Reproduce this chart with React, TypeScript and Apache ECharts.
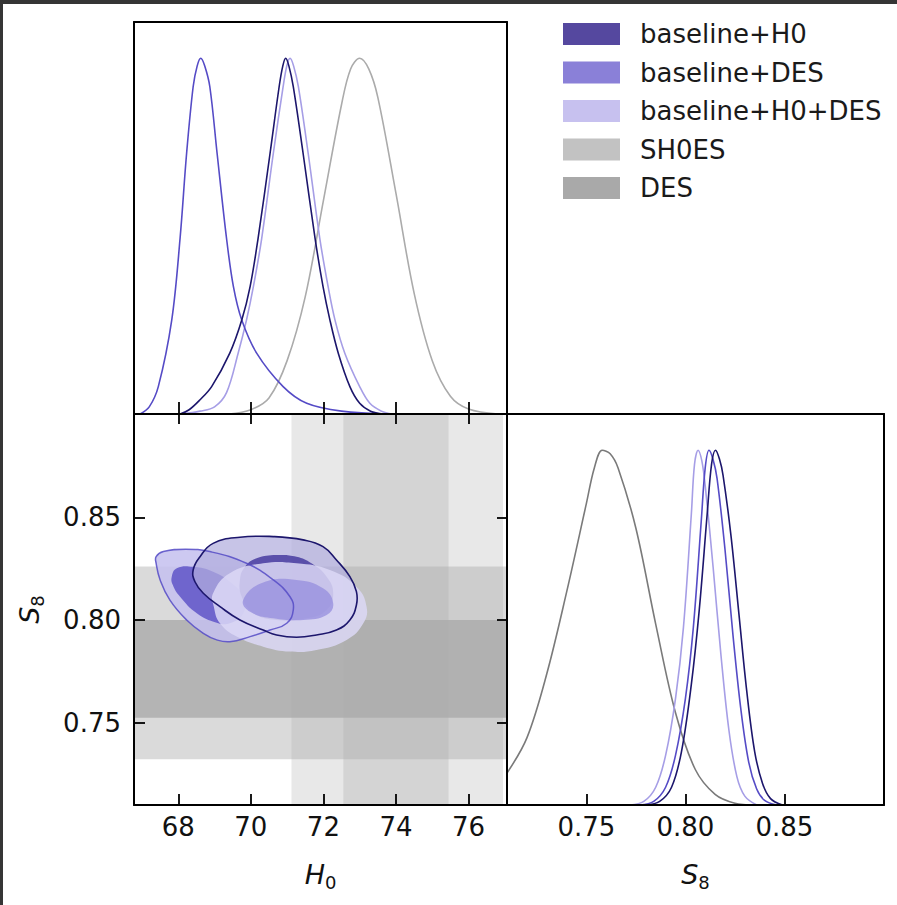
import React, { useEffect, useRef } from "react";
import * as echarts from "echarts";

const FONT = "DejaVu Sans";

// ---- axis ranges and ticks ----
const H0_MIN = 66.78;
const H0_MAX = 77.06;
const S8_MIN = 0.7099;
const S8_MAX = 0.9003;
const PDF_MAX = 1.102;
const H0_TICKS = [68, 70, 72, 74, 76];
const S8_TICKS = [0.75, 0.8, 0.85];

// ---- legend ----
const LEGEND_NAMES = ["baseline+H0", "baseline+DES", "baseline+H0+DES", "SH0ES", "DES"];
const LEGEND_COLORS = ["#55489f", "#8a80d8", "#c7c1ef", "#c2c2c2", "#a9a9a9"];

// ---- line colours ----
const LINE_H0 = "#1c166c";
const LINE_DES = "#554bc6";
const LINE_H0DES = "#a69ee6";
const LINE_SH0ES = "#ababab";
const LINE_DESONLY = "#7a7a7a";

// ---- 1D marginals of H0 (value, normalised density) ----
const h0BaselineH0 = [
  [68.05, 0], [68.3, 0.012], [68.6, 0.04], [68.92, 0.077], [69.42, 0.171], [69.75, 0.264],
  [69.98, 0.358], [70.2, 0.494], [70.53, 0.733], [70.78, 0.92], [70.88, 0.978], [70.96, 1.0],
  [71.05, 0.978], [71.17, 0.92], [71.44, 0.733], [71.77, 0.494], [71.99, 0.358], [72.18, 0.264],
  [72.41, 0.171], [72.73, 0.077], [73.0, 0.03], [73.3, 0.008], [73.65, 0],
];
const h0BaselineDES = [
  [66.95, 0], [67.2, 0.02], [67.45, 0.077], [67.82, 0.264], [68.05, 0.494], [68.23, 0.733],
  [68.41, 0.92], [68.52, 0.978], [68.62, 1.0], [68.73, 0.978], [68.87, 0.92], [69.07, 0.733],
  [69.33, 0.494], [69.52, 0.358], [69.75, 0.264], [70.16, 0.171], [70.89, 0.077], [71.54, 0.03],
  [72.5, 0.008], [73.8, 0],
];
const h0BaselineH0DES = [
  [68.1, 0], [68.6, 0.008], [69.0, 0.02], [69.33, 0.06], [69.65, 0.171], [69.88, 0.264],
  [70.07, 0.358], [70.3, 0.494], [70.62, 0.733], [70.89, 0.92], [70.99, 0.978], [71.08, 1.0],
  [71.18, 0.978], [71.31, 0.92], [71.58, 0.733], [71.9, 0.494], [72.13, 0.358], [72.32, 0.264],
  [72.59, 0.171], [73.0, 0.077], [73.28, 0.03], [73.6, 0.008], [73.9, 0],
];
const h0SH0ES = [
  [69.4, 0], [70.0, 0.012], [70.5, 0.045], [71.0, 0.15], [71.5, 0.33], [72.0, 0.6], [72.5, 0.87],
  [72.75, 0.97], [73.0, 1.0], [73.25, 0.97], [73.5, 0.89], [74.0, 0.62], [74.5, 0.34], [75.0, 0.15],
  [75.5, 0.05], [76.0, 0.014], [76.8, 0],
];

// ---- 1D marginals of S8 ----
const s8BaselineH0 = [
  [0.78, 0], [0.787, 0.01], [0.793, 0.05], [0.798, 0.15], [0.803, 0.34], [0.807, 0.55],
  [0.811, 0.82], [0.8132, 0.96], [0.8152, 1.0], [0.8172, 0.975], [0.819, 0.93], [0.823, 0.76],
  [0.827, 0.54], [0.831, 0.32], [0.835, 0.15], [0.839, 0.06], [0.843, 0.018], [0.849, 0],
];
const s8BaselineDES = [
  [0.777, 0], [0.784, 0.01], [0.79, 0.05], [0.795, 0.14], [0.8, 0.3], [0.804, 0.5], [0.808, 0.8],
  [0.81, 0.95], [0.8119, 1.0], [0.8139, 0.975], [0.816, 0.92], [0.82, 0.72], [0.824, 0.48],
  [0.828, 0.27], [0.832, 0.12], [0.836, 0.045], [0.84, 0.013], [0.846, 0],
];
const s8BaselineH0DES = [
  [0.772, 0], [0.779, 0.01], [0.785, 0.05], [0.79, 0.14], [0.795, 0.3], [0.799, 0.5],
  [0.803, 0.82], [0.8046, 0.96], [0.8064, 1.0], [0.8083, 0.97], [0.81, 0.9], [0.814, 0.67],
  [0.818, 0.42], [0.822, 0.21], [0.826, 0.08], [0.83, 0.025], [0.836, 0],
];
const s8DES = [
  [0.7099, 0.09], [0.72, 0.19], [0.73, 0.37], [0.74, 0.6], [0.75, 0.85], [0.754, 0.95], [0.758, 1.0],
  [0.762, 0.99], [0.766, 0.95], [0.775, 0.78], [0.785, 0.51], [0.795, 0.26], [0.805, 0.1],
  [0.815, 0.03], [0.825, 0.005], [0.835, 0],
];

// ---- external constraint bands ----
const sh0esBand95 = [71.12, 76.95];
const sh0esBand68 = [72.55, 75.45];
const desBand95 = [0.7322, 0.826];
const desBand68 = [0.7524, 0.8];

// ---- 2D contours (H0, S8) ----
const cDESOuter = [
  [67.39, 0.8308], [67.59, 0.8333], [68.2, 0.8345], [68.87, 0.8333], [69.88, 0.8276], [70.62, 0.8195],
  [71.08, 0.8113], [71.17, 0.8049], [70.99, 0.7984], [70.53, 0.7951], [69.98, 0.7919], [69.42, 0.7894],
  [69.06, 0.7903], [68.69, 0.7935], [68.23, 0.8], [67.77, 0.8097], [67.5, 0.8195], [67.39, 0.8276],
];
const cDESInner = [
  [67.82, 0.8211], [67.96, 0.8252], [68.41, 0.8259], [68.96, 0.8235], [69.42, 0.8186], [69.79, 0.8113],
  [69.79, 0.8033], [69.42, 0.7984], [69.06, 0.7987], [68.51, 0.8033], [68.05, 0.8113], [67.85, 0.817],
];
const cH0Outer = [
  [68.41, 0.8243], [68.6, 0.8308], [68.96, 0.8373], [69.7, 0.8403], [70.62, 0.8406], [71.44, 0.839],
  [71.99, 0.8357], [72.36, 0.8292], [72.73, 0.8211], [72.91, 0.8138], [72.91, 0.8073], [72.73, 0.8],
  [72.36, 0.7951], [71.81, 0.7927], [71.26, 0.7916], [70.71, 0.7927], [70.34, 0.7951], [69.7, 0.8],
  [69.15, 0.8065], [68.69, 0.813], [68.46, 0.8186],
];
const cH0Inner = [
  [69.84, 0.8259], [70.16, 0.83], [70.71, 0.8316], [71.26, 0.8308], [71.67, 0.8276], [72.09, 0.8211],
  [72.27, 0.813], [72.09, 0.8049], [71.54, 0.8008], [70.71, 0.8], [70.07, 0.8033], [69.75, 0.8113],
  [69.7, 0.8195],
];
const cH0DESOuter = [
  [68.96, 0.813], [69.42, 0.8227], [70.34, 0.8276], [71.26, 0.8276], [72.18, 0.8243], [72.91, 0.8162],
  [73.19, 0.8065], [73.1, 0.7984], [72.64, 0.7903], [71.81, 0.7854], [71.08, 0.7846], [70.34, 0.787],
  [69.61, 0.7919], [69.15, 0.7984], [68.98, 0.8065],
];
const cH0DESInner = [
  [69.79, 0.8097], [70.34, 0.8182], [71.26, 0.8195], [71.99, 0.8154], [72.27, 0.8081], [72.09, 0.8024],
  [71.44, 0.8], [70.62, 0.8008], [69.98, 0.804],
];

const labelStyle = { fontFamily: FONT, fontSize: 26, color: "#111" };
const frameLine = { show: true, onZero: false, lineStyle: { color: "#000", width: 2 } };
const tickStyle = { color: "#000", width: 1.8 };

function makeAxis(gridIndex: number, position: string, min: number, max: number, o: any = {}) {
  return {
    type: "value",
    gridIndex,
    position,
    min,
    max,
    z: 10,
    axisLine: frameLine,
    splitLine: { show: false },
    axisTick: o.ticks
      ? { show: true, inside: true, length: o.tickLen || 11, customValues: o.ticks, lineStyle: tickStyle }
      : { show: false },
    axisLabel: o.labels
      ? { show: true, customValues: o.ticks, margin: o.margin, formatter: o.fmt, ...labelStyle }
      : { show: false },
    ...(o.name
      ? {
          name: o.name,
          nameLocation: "middle",
          nameGap: o.nameGap,
          nameTextStyle: {
            rich: {
              i: { fontFamily: FONT, fontStyle: "italic", fontSize: 27, lineHeight: 34, color: "#111" },
              s: { fontFamily: FONT, fontSize: 18, lineHeight: 18, verticalAlign: "bottom", color: "#111" },
            },
          },
        }
      : {}),
  };
}

function line(name: string, data: number[][], color: string, xi: number, yi: number, z: number) {
  return {
    type: "line",
    name,
    data,
    xAxisIndex: xi,
    yAxisIndex: yi,
    smooth: 0.35,
    showSymbol: false,
    symbol: "none",
    clip: true,
    z,
    lineStyle: { color, width: 1.6 },
    silent: true,
  };
}

function contour(name: string, pts: number[][], style: any, z: number) {
  return {
    type: "custom",
    name,
    xAxisIndex: 2,
    yAxisIndex: 2,
    data: pts,
    encode: { x: 0, y: 1 },
    clip: true,
    z,
    silent: true,
    renderItem: (params: any, api: any) => {
      if (params.dataIndex !== 0) return null;
      const points = pts.map((p) => api.coord(p));
      return { type: "polygon", shape: { points, smooth: 0.45 }, style };
    },
  };
}

export default function App() {
  const ref = useRef<HTMLDivElement>(null);
  useEffect(() => {
    if (!ref.current) return;
    const chart = echarts.init(ref.current, null, { renderer: "svg" });
    const fmtH0 = (v: number) => String(Math.round(v));
    const fmtS8 = (v: number) => v.toFixed(2);

    const bandData = [
      { value: [H0_MIN, H0_MAX, desBand95[0], desBand95[1]], itemStyle: { color: "rgba(150,150,150,0.35)" } },
      { value: [H0_MIN, H0_MAX, desBand68[0], desBand68[1]], itemStyle: { color: "rgba(150,150,150,0.55)" } },
      { value: [sh0esBand95[0], sh0esBand95[1], S8_MIN, S8_MAX], itemStyle: { color: "rgba(170,170,170,0.27)" } },
      { value: [sh0esBand68[0], sh0esBand68[1], S8_MIN, S8_MAX], itemStyle: { color: "rgba(170,170,170,0.32)" } },
    ];

    const legendGraphics: any[] = [];
    LEGEND_NAMES.forEach((n, i) => {
      legendGraphics.push({
        type: "rect",
        shape: { x: 563, y: 23 + i * 38.5, width: 57, height: 22 },
        style: { fill: LEGEND_COLORS[i] },
      });
      legendGraphics.push({
        type: "text",
        x: 640,
        y: 34 + i * 38.5,
        style: { text: n, fontFamily: FONT, fontSize: 26, fill: "#1a1a1a", verticalAlign: "middle" },
      });
    });

    chart.setOption({
      animation: false,
      backgroundColor: "#ffffff",
      grid: [
        { left: 134, top: 22, width: 373, height: 392 },
        { left: 134, top: 414, width: 373, height: 391 },
        { left: 507, top: 414, width: 377, height: 391 },
      ],
      xAxis: [
        makeAxis(0, "bottom", H0_MIN, H0_MAX, { ticks: H0_TICKS, tickLen: 12 }),
        makeAxis(0, "top", H0_MIN, H0_MAX),
        makeAxis(1, "bottom", H0_MIN, H0_MAX, {
          ticks: H0_TICKS, labels: true, margin: 9, fmt: fmtH0,
          name: "{i|H}{s|0}", nameGap: 52,
        }),
        makeAxis(1, "top", H0_MIN, H0_MAX, { ticks: H0_TICKS, tickLen: 10 }),
        makeAxis(2, "bottom", S8_MIN, S8_MAX, {
          ticks: S8_TICKS, labels: true, margin: 9, fmt: fmtS8,
          name: "{i|S}{s|8}", nameGap: 52,
        }),
        makeAxis(2, "top", S8_MIN, S8_MAX),
      ],
      yAxis: [
        makeAxis(0, "left", 0, PDF_MAX),
        makeAxis(0, "right", 0, PDF_MAX),
        makeAxis(1, "left", S8_MIN, S8_MAX, {
          ticks: S8_TICKS, labels: true, margin: 13, fmt: fmtS8,
          name: "{i|S}{s|8}", nameGap: 88,
        }),
        makeAxis(1, "right", S8_MIN, S8_MAX, { ticks: S8_TICKS, tickLen: 10 }),
        makeAxis(2, "left", 0, PDF_MAX),
        makeAxis(2, "right", 0, PDF_MAX),
      ],
      graphic: [
        { type: "rect", shape: { x: 0, y: 0, width: 897, height: 4 }, style: { fill: "#353535" } },
        { type: "rect", shape: { x: 0, y: 0, width: 3, height: 905 }, style: { fill: "#353535" } },
        ...legendGraphics,
      ],
      series: [
        {
          type: "custom",
          name: "bands",
          xAxisIndex: 2,
          yAxisIndex: 2,
          data: bandData,
          encode: { x: [0, 1], y: [2, 3] },
          clip: true,
          z: 1,
          silent: true,
          renderItem: (params: any, api: any) => {
            const a = api.coord([api.value(0), api.value(3)]);
            const b = api.coord([api.value(1), api.value(2)]);
            return {
              type: "rect",
              shape: {
                x: Math.min(a[0], b[0]), y: Math.min(a[1], b[1]),
                width: Math.abs(b[0] - a[0]), height: Math.abs(b[1] - a[1]),
              },
              style: { fill: api.visual("color") },
            };
          },
        },
        contour("baseline+DES", cDESOuter, { fill: "rgba(196,191,238,0.85)" }, 2),
        contour("baseline+DES", cDESInner, { fill: "rgba(95,85,200,0.85)" }, 3),
        contour("baseline+H0", cH0Outer, { fill: "rgba(178,173,222,0.72)" }, 4),
        contour("baseline+H0", cH0Inner, { fill: "rgba(72,60,160,0.85)" }, 5),
        contour("baseline+H0+DES", cH0DESOuter, { fill: "rgba(220,216,246,0.85)" }, 6),
        contour("baseline+H0+DES", cH0DESInner, { fill: "rgba(150,142,222,0.75)" }, 7),
        contour("baseline+DES", cDESOuter, { fill: "none", stroke: LINE_DES, lineWidth: 1.5, opacity: 0.85 }, 8),
        contour("baseline+H0", cH0Outer, { fill: "none", stroke: LINE_H0, lineWidth: 1.6 }, 9),

        line("baseline+H0", h0BaselineH0, LINE_H0, 0, 0, 5),
        line("baseline+DES", h0BaselineDES, LINE_DES, 0, 0, 4),
        line("baseline+H0+DES", h0BaselineH0DES, LINE_H0DES, 0, 0, 3),
        line("SH0ES", h0SH0ES, LINE_SH0ES, 0, 0, 2),

        line("baseline+H0", s8BaselineH0, LINE_H0, 4, 4, 5),
        line("baseline+DES", s8BaselineDES, LINE_DES, 4, 4, 4),
        line("baseline+H0+DES", s8BaselineH0DES, LINE_H0DES, 4, 4, 3),
        line("DES", s8DES, LINE_DESONLY, 4, 4, 2),
      ],
    });
    return () => chart.dispose();
  }, []);

  return (
    <div style={{ position: "fixed", left: 0, top: 0, width: 897, height: 905, background: "#fff" }}>
      <div ref={ref} style={{ width: 897, height: 905 }} />
    </div>
  );
}
